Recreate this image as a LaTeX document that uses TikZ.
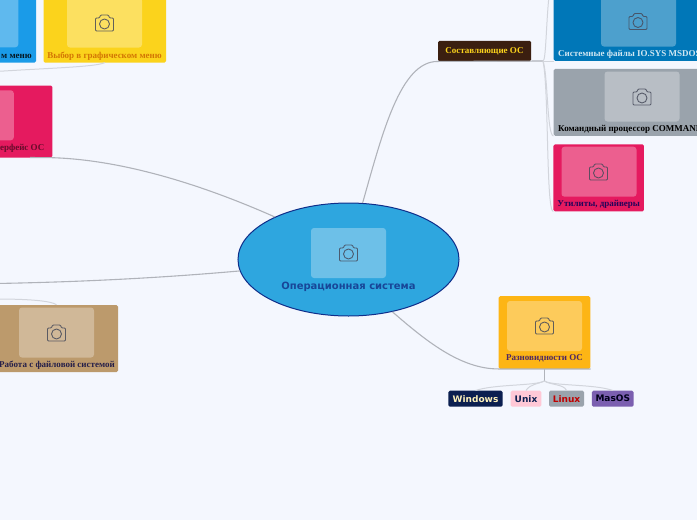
\documentclass[tikz,border=0pt]{standalone}
\usepackage{fontspec}
\setmainfont{Liberation Serif}
\setsansfont{DejaVu Sans}
\usetikzlibrary{shapes.geometric}

\definecolor{mapPaper}{RGB}{244,247,254}
\definecolor{mapLine}{RGB}{176,179,186}
\definecolor{mapThin}{RGB}{210,213,220}
\definecolor{mapIcon}{RGB}{70,74,90}
\definecolor{mainFill}{RGB}{46,166,223}
\definecolor{mainLine}{RGB}{15,46,138}
\definecolor{mainText}{RGB}{24,70,152}
\definecolor{cardBlue}{RGB}{26,155,232}
\definecolor{cardYellow}{RGB}{251,211,28}
\definecolor{cardPink}{RGB}{229,26,95}
\definecolor{cardBrown}{RGB}{188,154,108}
\definecolor{cardSea}{RGB}{0,119,184}
\definecolor{cardGrey}{RGB}{154,163,172}
\definecolor{cardAmber}{RGB}{253,181,21}
\definecolor{cardBark}{RGB}{59,31,16}
\definecolor{tagNavy}{RGB}{11,31,80}
\definecolor{tagRose}{RGB}{255,200,214}
\definecolor{tagViolet}{RGB}{123,95,176}

\tikzset{
  cardbox/.style={rectangle, rounded corners=1.5pt, inner sep=0pt},
  photobox/.style={rectangle, rounded corners=3pt, fill=white, fill opacity=.3,
    inner sep=0pt, minimum width=75pt, minimum height=50pt},
  cardtext/.style={inner sep=0pt, font=\fontsize{9}{9}\selectfont\bfseries},
  tagtext/.style={rectangle, rounded corners=1.5pt, inner sep=0pt, minimum height=16pt,
    font=\fontsize{9}{9}\selectfont\sffamily\bfseries},
  mainlink/.style={line width=1.1pt, draw=mapLine},
  thinlink/.style={line width=1pt, draw=mapThin},
  camera/.pic={
    \draw[line width=.9pt, draw=mapIcon, draw opacity=.85, rounded corners=1pt]
      (-9,-5) -- (-5,-5) -- (-4,-8) -- (4,-8) -- (5,-5) -- (9,-5) -- (9,8) -- (-9,8) -- cycle;
    \draw[line width=.9pt, draw=mapIcon, draw opacity=.85] (0,1) circle (5pt);
  }
}

\begin{document}
\begin{tikzpicture}[x=1pt, y=-1pt]
  \useasboundingbox (0,0) rectangle (697,520);
  \clip (0,0) rectangle (697,520);
  \fill[mapPaper] (0,0) rectangle (697,520);

  % central topic
  \node[ellipse, draw=mainLine, line width=1pt, fill=mainFill, inner sep=0pt,
    minimum width=221pt, minimum height=113pt] (main) at (348.5,259.5) {};
  \node[photobox] (mainphoto) at (348.5,253) {};
  \pic at (348.5,253) {camera};
  \node[font=\fontsize{10}{10}\selectfont\sffamily\bfseries, text=mainText, inner sep=0pt] (maintext) at (348.5,286.5) {Операционная система};

  % left side
  \node[cardbox, fill=cardBlue, minimum width=60pt, minimum height=72pt] (textmenu) at (6,26.5) {};
  \node[photobox, anchor=south east] (textmenuphoto) at (18.5,47.5) {};
  \node[cardtext, text=black!85!cardBlue, anchor=east] (textmenutext) at (32,56) {м меню};

  \node[cardbox, fill=cardYellow, minimum width=122.5pt, minimum height=72pt] (gfxmenu) at (104.75,26.5) {};
  \node[photobox] (gfxmenuphoto) at (104.5,22.5) {};
  \pic at (104.5,23) {camera};
  \node[cardtext, text=black!20!orange!85!cardYellow] (gfxmenutext) at (104.5,56) {Выбор в графическом меню};

  \node[cardbox, fill=cardPink, minimum width=72pt, minimum height=72pt] (iface) at (16.3,121.5) {};
  \node[photobox, anchor=south east] (ifacephoto) at (14,140.5) {};
  \node[cardtext, text=cardPink!45!black, anchor=east] (ifacetext) at (44.5,148) {ерфейс ОС};

  \node[cardbox, fill=cardBrown, minimum width=138pt, minimum height=67pt] (files) at (49,338.5) {};
  \node[photobox] (filesphoto) at (56.5,332.5) {};
  \pic at (56.5,333) {camera};
  \node[cardtext, text=black!75!blue!80!cardBrown] (filestext) at (57,365.5) {Работа с файловой системой};

  \coordinate (leftend) at (-4,283.5);
  \coordinate (menuend) at (-4,71.5);
  \coordinate (filesend) at (-4,299);
  \draw[mainlink] (main.150) .. controls (205,186) and (125,160) .. (iface.south east) -- (30,157.5);
  \draw[mainlink] (main.186) .. controls (160,278) and (80,282) .. (leftend);
  \draw[thinlink] (gfxmenu.south) .. controls (95,67) and (50,68) .. (menuend);
  \draw[thinlink] (files.north -| filesphoto) .. controls (52,301) and (30,299) .. (filesend);

  % right top
  \node[cardbox, fill=cardBark, minimum width=93pt, minimum height=20.5pt] (parts) at (484.5,51) {};
  \node[cardtext, text=cardYellow] (partstext) at (484.5,51.5) {Составляющие ОС};
  \coordinate (partsjoin) at (543,61);
  \coordinate (topend) at (549,-4);

  \node[cardbox, fill=cardSea, minimum width=180pt, minimum height=70pt, anchor=south west] (sysfiles) at (553.5,61) {};
  \node[photobox] (sysfilesphoto) at (638.5,21.5) {};
  \pic at (638,21.5) {camera};
  \node[cardtext, text=cardSea!18!white, anchor=west] (sysfilestext) at (558,54) {Системные файлы IO.SYS MSDOS};

  \node[cardbox, fill=cardGrey, minimum width=180pt, minimum height=67pt, anchor=south west] (shell) at (553.5,136) {};
  \node[photobox] (shellphoto) at (642,96.5) {};
  \pic at (642,97) {camera};
  \node[cardtext, text=black, anchor=west] (shelltext) at (558,129) {Командный процессор COMMAND};

  \node[cardbox, fill=cardPink, minimum width=90.5pt, minimum height=67pt] (utils) at (598.7,177.8) {};
  \node[photobox] (utilsphoto) at (599,171.7) {};
  \pic at (598.5,172) {camera};
  \node[cardtext, text=cardPink!35!blue!45!black] (utilstext) at (598.7,204) {Утилиты, драйверы};

  \draw[mainlink] (main.76) .. controls (382,135) and (400,61) .. (parts.south west) -- (partsjoin);
  \draw[thinlink] (partsjoin) .. controls (546,61) and (546,25) .. (topend);
  \draw[thinlink] (partsjoin) -- (sysfiles.south west);
  \draw[thinlink] (partsjoin) .. controls (548,75) and (547,136) .. (shell.south west);
  \draw[thinlink] (partsjoin) .. controls (549,90) and (546,211) .. (utils.south west);

  % right bottom
  \node[cardbox, fill=cardAmber, minimum width=91.6pt, minimum height=72.7pt] (kinds) at (544.5,332.4) {};
  \node[photobox] (kindsphoto) at (544.5,326) {};
  \pic at (544.5,326) {camera};
  \node[cardtext, text=cardPink!25!blue!55!black!80!cardAmber] (kindstext) at (544.5,358.7) {Разновидности ОС};
  \coordinate (kindsjoin) at (544.5,381);

  \node[tagtext, fill=tagNavy, text=cardYellow!30!white, minimum width=54.4pt] (windows) at (475.5,398.7) {Windows};
  \node[tagtext, fill=tagRose, text=tagNavy, minimum width=30.6pt] (unix) at (526,398.7) {Unix};
  \node[tagtext, fill=cardGrey, text=red!75!black, minimum width=35pt] (linux) at (566.5,398.7) {Linux};
  \node[tagtext, fill=tagViolet, text=black!90!blue, minimum width=41.7pt] (masos) at (612.8,398.7) {MasOS};

  \draw[mainlink] (main.310) .. controls (425,340) and (460,369) .. (kinds.south west) -- (kinds.south east);
  \draw[mainlink] (kinds.south) -- (kindsjoin);
  \draw[thinlink] (kindsjoin) .. controls (535,386) and (495,384) .. (windows.north);
  \draw[thinlink] (kindsjoin) .. controls (538,384) and (530,384) .. (unix.north);
  \draw[thinlink] (kindsjoin) .. controls (550,385) and (564,384) .. (linux.north);
  \draw[thinlink] (kindsjoin) .. controls (552,386) and (595,384) .. (masos.north);
\end{tikzpicture}
\end{document}
